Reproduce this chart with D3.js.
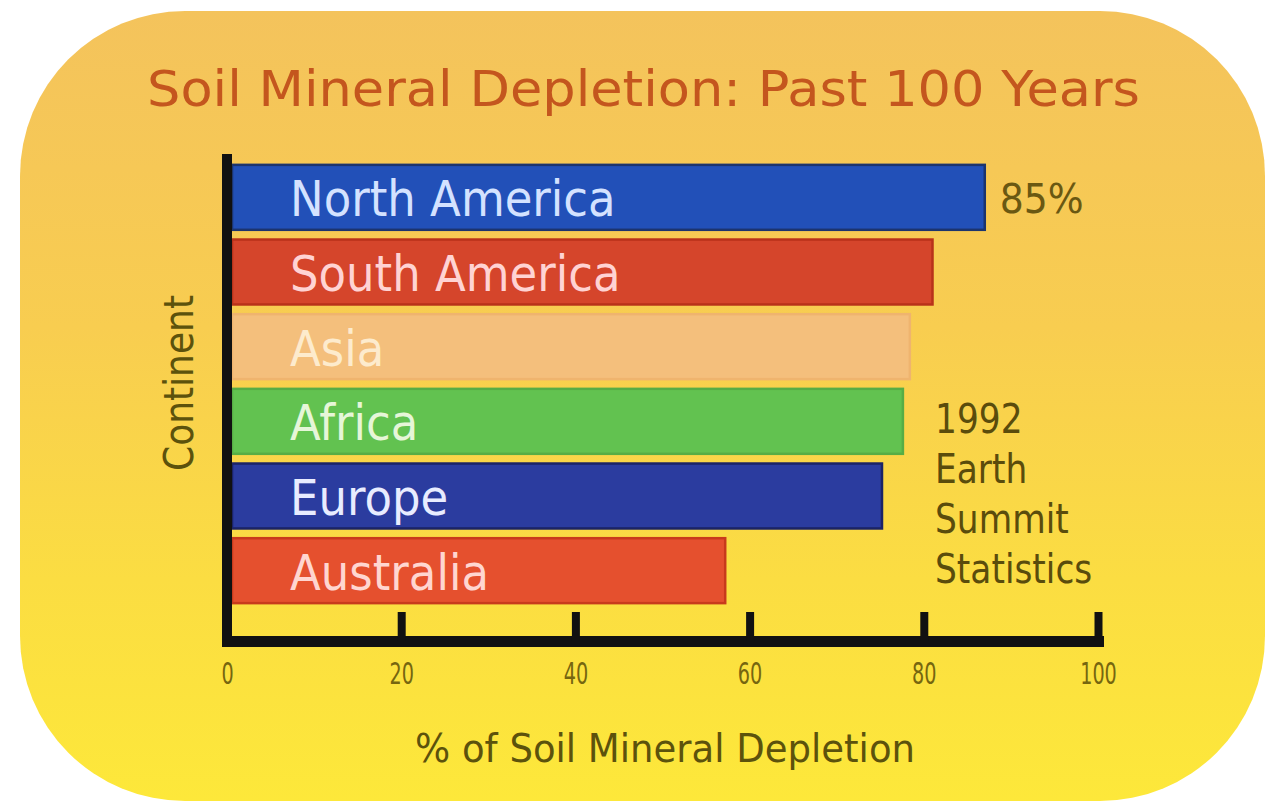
<!DOCTYPE html>
<html>
<head>
<meta charset="utf-8">
<script src="https://cdn.jsdelivr.net/npm/d3@7"></script>
<style>
  html, body { margin: 0; padding: 0; background: #ffffff; }
  svg { display: block; }
</style>
</head>
<body>
<svg id="chart" width="1276" height="807"></svg>
<script>
// ---- data ----
const continents = ["North America", "South America", "Asia", "Africa", "Europe", "Australia"];
const depletion = [87, 81, 78.4, 77.6, 75.2, 57.2];
const barColors = ["#2250b8", "#d5452b", "#f4bf7c", "#62c250", "#2b3c9f", "#e5502e"];
const barStrokes = ["#1c346e", "#b8321a", "#efb46e", "#57ad45", "#1b2366", "#c83a1c"];
const labelColors = ["#d4e2ff", "#ffd3d3", "#fdebcd", "#e6f6d8", "#e8ecff", "#ffd6d0"];
const xTicks = [0, 20, 40, 60, 80, 100];
const titleText = "Soil Mineral Depletion: Past 100 Years";
const xTitle = "% of Soil Mineral Depletion";
const yTitle = "Continent";
const valueNote = "85%";
const sourceLines = ["1992", "Earth", "Summit", "Statistics"];

// ---- drawing ----
const svg = d3.select("#chart");
const defs = svg.append("defs");
const grad = defs.append("linearGradient").attr("id", "bg").attr("x1", 0).attr("y1", 0).attr("x2", 0).attr("y2", 1);
[[0, "#f4c35c"], [0.4, "#f8cd50"], [0.72, "#fbdd42"], [1, "#fde83a"]].forEach(([o, c]) =>
  grad.append("stop").attr("offset", o).attr("stop-color", c));

svg.append("rect")
  .attr("x", 20).attr("y", 11).attr("width", 1245).attr("height", 790)
  .attr("rx", 165).attr("ry", 165)
  .attr("fill", "url(#bg)");

svg.append("text")
  .attr("x", 147).attr("y", 106)
  .attr("textLength", 993).attr("lengthAdjust", "spacingAndGlyphs")
  .attr("font-family", "DejaVu Sans, Verdana, sans-serif")
  .attr("font-size", 49)
  .attr("fill", "#c4561e")
  .text(titleText);

const x = d3.scaleLinear().domain([0, 100]).range([227, 1098]);
const y = d3.scaleBand().domain(continents).range([160, 608]).paddingInner(0.13).paddingOuter(0.065);
const axisY = 641;

const data = continents.map((c, i) => ({ name: c, value: depletion[i], i }));

// bars
svg.append("g").selectAll("rect").data(data).join("rect")
  .attr("x", x(0) + 5)
  .attr("y", d => y(d.name))
  .attr("width", d => x(d.value) - x(0) - 5)
  .attr("height", y.bandwidth())
  .attr("fill", d => barColors[d.i])
  .attr("stroke", d => barStrokes[d.i])
  .attr("stroke-width", 2.5);

// labels in bars
svg.append("g").selectAll("text").data(data).join("text")
  .attr("transform", d => `translate(${x(0) + 63},${y(d.name) + y.bandwidth() / 2 + 19}) scale(0.9,1)`)
  .attr("font-family", "DejaVu Sans, Verdana, sans-serif")
  .attr("font-size", 50)
  .attr("fill", d => labelColors[d.i])
  .text(d => d.name);

// x axis
const xAxis = d3.axisBottom(x).tickValues(xTicks).tickSizeInner(-29).tickSizeOuter(0).tickPadding(21)
  .tickFormat(d3.format("d"));
const gx = svg.append("g").attr("transform", `translate(0,${axisY})`).call(xAxis);
gx.select(".domain").attr("stroke", "#111").attr("stroke-width", 11).attr("stroke-linecap", "square");
gx.selectAll(".tick line").attr("stroke", "#111").attr("stroke-width", 8);
gx.selectAll(".tick text")
  .attr("font-family", "DejaVu Sans, Verdana, sans-serif")
  .attr("font-size", 31)
  .attr("fill", "#76660f")
  .attr("transform", "scale(0.62,1)")
  .attr("x", 0);

// y axis line
const yAxis = d3.axisLeft(y).tickSize(0).tickFormat("");
const gy = svg.append("g").attr("transform", `translate(${x(0)},0)`).call(yAxis);
gy.select(".domain").remove();
gy.append("line")
  .attr("x1", 0).attr("x2", 0)
  .attr("y1", y.range()[0] - 6).attr("y2", axisY)
  .attr("stroke", "#111").attr("stroke-width", 10);

// axis titles
svg.append("text")
  .attr("x", 665).attr("y", 762)
  .attr("text-anchor", "middle")
  .attr("textLength", 500).attr("lengthAdjust", "spacingAndGlyphs")
  .attr("font-family", "DejaVu Sans, Verdana, sans-serif")
  .attr("font-size", 39)
  .attr("fill", "#5c520c")
  .text(xTitle);

svg.append("text")
  .attr("transform", "translate(193,383) rotate(-90)")
  .attr("text-anchor", "middle")
  .attr("textLength", 176).attr("lengthAdjust", "spacingAndGlyphs")
  .attr("font-family", "DejaVu Sans, Verdana, sans-serif")
  .attr("font-size", 40)
  .attr("fill", "#5c520c")
  .text(yTitle);

// value annotation
svg.append("text")
  .attr("x", x(depletion[0]) + 15).attr("y", y(continents[0]) + y.bandwidth() / 2 + 16)
  .attr("textLength", 84).attr("lengthAdjust", "spacingAndGlyphs")
  .attr("font-family", "DejaVu Sans, Verdana, sans-serif")
  .attr("font-size", 40)
  .attr("fill", "#6a5812")
  .text(valueNote);

// source note
svg.append("g").selectAll("text").data(sourceLines).join("text")
  .attr("transform", (d, i) => `translate(935,${433 + i * 50}) scale(0.86,1)`)
  .attr("font-family", "DejaVu Sans, Verdana, sans-serif")
  .attr("font-size", 40)
  .attr("fill", "#5a4c0c")
  .text(d => d);
</script>
</body>
</html>
